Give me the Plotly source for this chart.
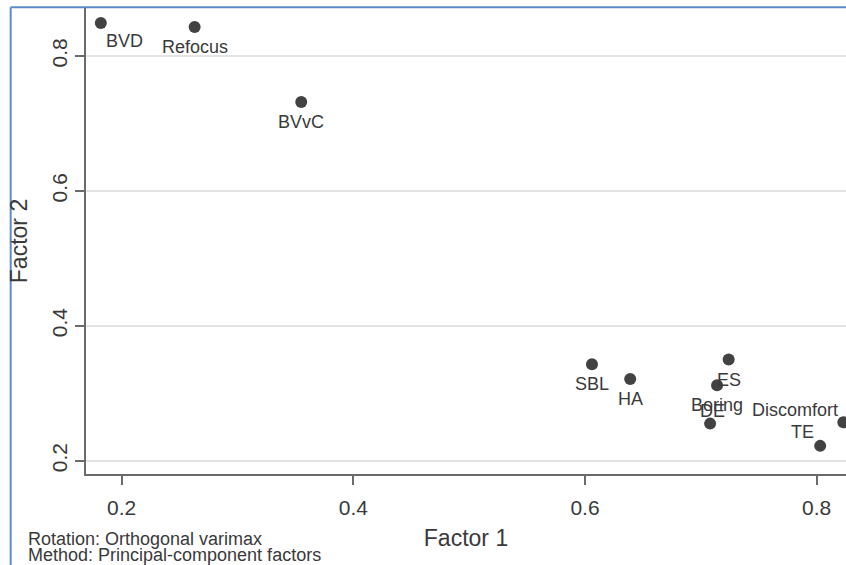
import plotly.graph_objects as go

# Rotated factor loadings (varimax), one row per item
items = ["BVD", "Refocus", "BVvC", "SBL", "HA", "ES", "Boring", "DE", "TE", "Discomfort"]
factor1 = [0.182, 0.263, 0.355, 0.606, 0.639, 0.724, 0.714, 0.708, 0.803, 0.823]
factor2 = [0.849, 0.843, 0.732, 0.343, 0.321, 0.350, 0.312, 0.255, 0.222, 0.257]

x_ticks = [0.2, 0.4, 0.6, 0.8]
y_ticks = [0.2, 0.4, 0.6, 0.8]
notes = ["Rotation: Orthogonal varimax", "Method: Principal-component factors"]

# marker-label placement: (xanchor, xshift px, yshift px)
LABEL_PLACE = {
    "BVD": ("left", 4, -18),
    "Refocus": ("center", 0, -20),
    "BVvC": ("center", 0, -20),
    "SBL": ("center", 0, -20),
    "HA": ("center", 0, -20),
    "ES": ("center", 0, -20),
    "Boring": ("center", 0, -20),
    "DE": ("center", 2, 13),
    "TE": ("right", -5, 14),
    "Discomfort": ("right", -4, 12),
}

FONT = "Liberation Sans, Arial, sans-serif"
INK = "#3a3a3a"
AXIS = "#6b6b6b"

fig = go.Figure()
fig.add_trace(go.Scatter(
    x=factor1, y=factor2, mode="markers",
    marker=dict(size=12, color="#424242"),
    showlegend=False, hoverinfo="skip",
))

# item names next to their markers
for name, fx, fy in zip(items, factor1, factor2):
    anchor, dx, dy = LABEL_PLACE[name]
    fig.add_annotation(
        x=fx, y=fy, text=name, showarrow=False,
        xanchor=anchor, yanchor="middle", xshift=dx, yshift=dy,
        font=dict(family=FONT, size=18, color=INK), borderpad=0,
    )

fig.update_xaxes(
    range=[0.1692, 0.8253], tickvals=x_ticks, ticktext=[f"{v:.1f}" for v in x_ticks],
    showgrid=False, zeroline=False, showline=True, linecolor=AXIS, linewidth=1.5,
    ticks="outside", ticklen=9, tickwidth=1.5, tickcolor=AXIS, ticklabelstandoff=5,
    tickfont=dict(family=FONT, size=21, color=INK),
    title=dict(text="Factor 1", font=dict(family=FONT, size=23, color=INK), standoff=12),
)
fig.update_yaxes(
    range=[0.1803, 0.8712], tickvals=y_ticks, ticktext=[f"{v:.1f}" for v in y_ticks],
    showgrid=True, gridcolor="#e4e4e4", gridwidth=1.5, zeroline=False,
    showline=True, linecolor=AXIS, linewidth=1.5,
    ticks="outside", ticklen=9, tickwidth=1.5, tickcolor=AXIS, tickangle=-90,
    tickfont=dict(family=FONT, size=21, color=INK),
    title=dict(text="Factor 2", font=dict(family=FONT, size=23, color=INK), standoff=14),
)

# method notes under the lower-left corner
for i, line in enumerate(notes):
    fig.add_annotation(
        text=line, xref="paper", yref="paper", x=-0.079, y=-0.1395 - i * 0.0343,
        xanchor="left", yanchor="middle", showarrow=False,
        font=dict(family=FONT, size=18, color=INK),
    )

# blue frame along the top and left edges
frame = dict(color="#5b8bc9", width=2)
fig.add_shape(type="line", xref="paper", yref="paper",
              x0=-0.0991, x1=1.02, y0=1.0015, y1=1.0015, line=frame)
fig.add_shape(type="line", xref="paper", yref="paper",
              x0=-0.0991, x1=-0.0991, y0=1.0015, y1=-0.2, line=frame)

fig.update_layout(
    width=846, height=565,
    margin=dict(l=86, r=0, t=8, b=91),
    paper_bgcolor="white", plot_bgcolor="white",
    font=dict(family=FONT, color=INK),
)

fig.write_html("out.html")
